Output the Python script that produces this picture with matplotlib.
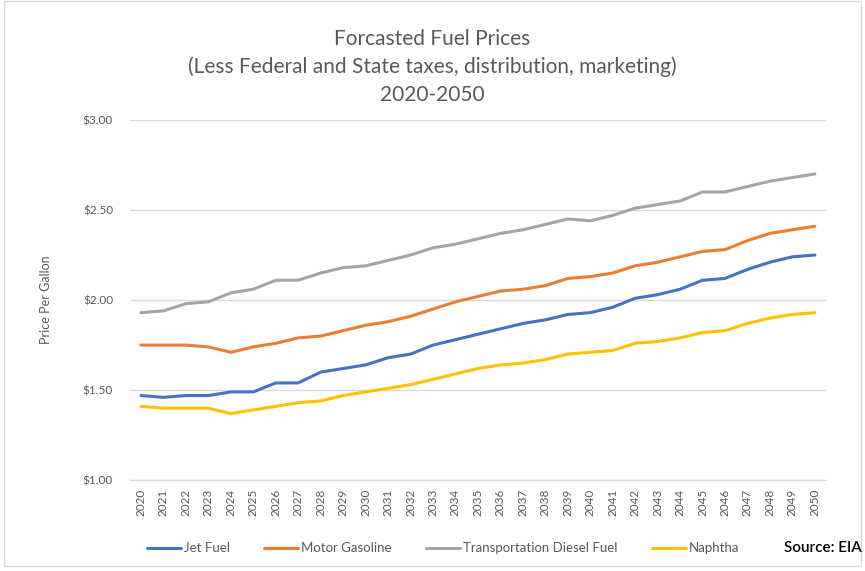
import matplotlib.pyplot as plt
from matplotlib.patches import Rectangle
import numpy as np

years = [str(y) for y in range(2020, 2051)]

jet_fuel = [1.47, 1.46, 1.47, 1.47, 1.49, 1.49, 1.54, 1.54, 1.60, 1.62, 1.64,
            1.68, 1.70, 1.75, 1.78, 1.81, 1.84, 1.87, 1.89, 1.92, 1.93,
            1.96, 2.01, 2.03, 2.06, 2.11, 2.12, 2.17, 2.21, 2.24, 2.25]
motor_gasoline = [1.75, 1.75, 1.75, 1.74, 1.71, 1.74, 1.76, 1.79, 1.80, 1.83, 1.86,
                  1.88, 1.91, 1.95, 1.99, 2.02, 2.05, 2.06, 2.08, 2.12, 2.13,
                  2.15, 2.19, 2.21, 2.24, 2.27, 2.28, 2.33, 2.37, 2.39, 2.41]
diesel = [1.93, 1.94, 1.98, 1.99, 2.04, 2.06, 2.11, 2.11, 2.15, 2.18, 2.19,
          2.22, 2.25, 2.29, 2.31, 2.34, 2.37, 2.39, 2.42, 2.45, 2.44,
          2.47, 2.51, 2.53, 2.55, 2.60, 2.60, 2.63, 2.66, 2.68, 2.70]
naphtha = [1.41, 1.40, 1.40, 1.40, 1.37, 1.39, 1.41, 1.43, 1.44, 1.47, 1.49,
           1.51, 1.53, 1.56, 1.59, 1.62, 1.64, 1.65, 1.67, 1.70, 1.71,
           1.72, 1.76, 1.77, 1.79, 1.82, 1.83, 1.87, 1.90, 1.92, 1.93]

series = [("Jet Fuel", jet_fuel, "#4472C4"),
          ("Motor Gasoline", motor_gasoline, "#ED7D31"),
          ("Transportation Diesel Fuel", diesel, "#A5A5A5"),
          ("Naphtha", naphtha, "#FFC000")]

plt.rcParams['font.family'] = ['Lato', 'DejaVu Sans']

fig = plt.figure(figsize=(8.65, 5.71), dpi=100)
ax = fig.add_axes([0.150, 0.159, 0.805, 0.631])

x = np.arange(len(years))
for name, vals, col in series:
    ax.plot(x, vals, color=col, lw=2.2, label=name, solid_capstyle='round')

ax.set_xlim(-0.5, len(years) - 0.5)
ax.set_ylim(1.0, 3.0)
ax.set_yticks([1.0, 1.5, 2.0, 2.5, 3.0])
ax.set_yticklabels(["$%.2f" % v for v in [1.0, 1.5, 2.0, 2.5, 3.0]])
ax.set_xticks(x)
ax.set_xticklabels(years, rotation=90)
ax.tick_params(axis='both', length=0, labelsize=8.5, colors='#595959')
ax.tick_params(axis='y', pad=12)
ax.tick_params(axis='x', pad=6)
ax.grid(axis='y', color='#d9d9d9', lw=1)
ax.set_axisbelow(True)
for s in ['top', 'right', 'left']:
    ax.spines[s].set_visible(False)
ax.spines['bottom'].set_color('#d9d9d9')

ax.set_ylabel("Price Per Gallon", fontsize=9, color='#595959', labelpad=22)

fig.text(0.5, 0.95, "Forcasted Fuel Prices\n(Less Federal and State taxes, distribution, marketing)\n2020-2050",
         ha='center', va='top', fontsize=15, color='#595959', linespacing=1.5)

fig.legend(loc='center', bbox_to_anchor=(0.512, 0.04), ncol=4, frameon=False,
           fontsize=9.5, labelcolor='#595959', handlelength=2.6, columnspacing=2.6,
           handletextpad=0.2)

fig.text(0.996, 0.04, "Source: EIA", ha='right', va='center', fontsize=11,
         color='black', fontweight='semibold')

fig.patches.append(Rectangle((0.005, 0.008), 0.99, 0.99, transform=fig.transFigure,
                             fill=False, edgecolor='#d9d9d9', lw=1))

fig.savefig("out.png", dpi=100)
